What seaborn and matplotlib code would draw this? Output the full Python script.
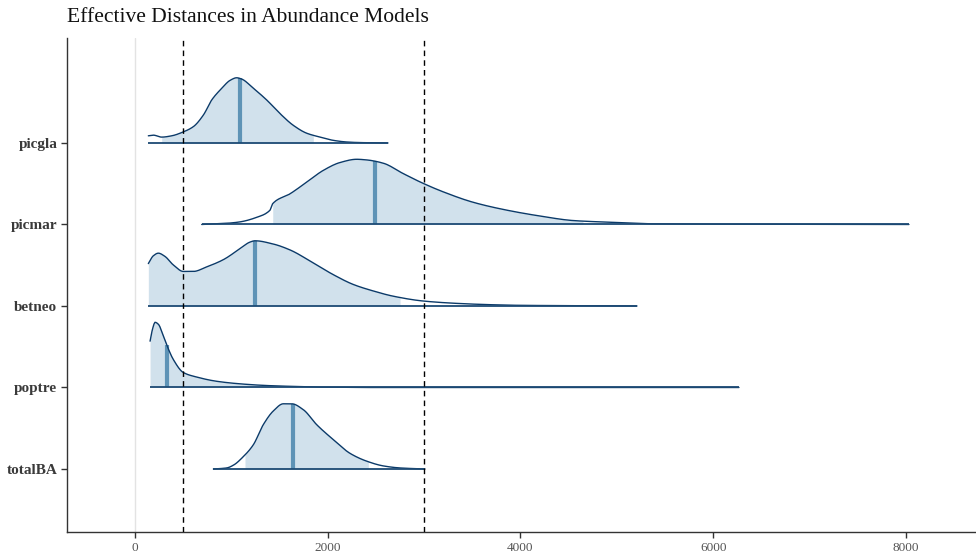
import numpy as np
import matplotlib
matplotlib.use("Agg")
import matplotlib.pyplot as plt
import seaborn as sns

# Parameters, bottom to top
params = ["totalBA", "poptre", "betneo", "picmar", "picgla"]

# Density curves (distance, relative height with peak = 1)
picgla_x = [138, 190, 277, 381, 501, 605, 710, 796, 901, 986, 1055, 1107, 1227,
            1366, 1505, 1643, 1781, 1920, 2058, 2197, 2335, 2625]
picgla_h = [0.11, 0.12, 0.09, 0.11, 0.17, 0.25, 0.43, 0.66, 0.84, 0.96, 1.0, 0.98,
            0.84, 0.66, 0.45, 0.27, 0.15, 0.09, 0.04, 0.015, 0.006, 0.0]

picmar_x = [692, 968, 1090, 1263, 1401, 1429, 1608, 1782, 1954, 2127, 2300, 2404,
            2576, 2784, 2991, 3199, 3510, 3857, 4202, 4548, 4894, 5067, 5344, 8031]
picmar_h = [0.0, 0.02, 0.04, 0.11, 0.22, 0.32, 0.47, 0.65, 0.83, 0.95, 1.0, 0.99,
            0.94, 0.78, 0.63, 0.50, 0.34, 0.22, 0.13, 0.06, 0.036, 0.026, 0.01, 0.0]

betneo_x = [138, 190, 242, 311, 397, 501, 605, 744, 916, 1090, 1193, 1245, 1435,
            1608, 1850, 2058, 2265, 2473, 2680, 2991, 3338, 3684, 3995, 5209]
betneo_h = [0.65, 0.77, 0.81, 0.76, 0.63, 0.53, 0.53, 0.60, 0.71, 0.88, 0.98, 1.0,
            0.95, 0.86, 0.66, 0.48, 0.33, 0.23, 0.15, 0.076, 0.04, 0.02, 0.01, 0.0]

poptre_x = [156, 184, 208, 242, 294, 346, 397, 501, 640, 848, 1090, 1367, 1678,
            1954, 2231, 2400, 6267]
poptre_h = [0.71, 0.91, 1.0, 0.97, 0.79, 0.59, 0.43, 0.23, 0.16, 0.095, 0.056,
            0.03, 0.015, 0.005, 0.003, 0.0, 0.0]

totalBA_x = [813, 951, 1020, 1124, 1227, 1331, 1435, 1539, 1626, 1746, 1885, 2058,
             2231, 2404, 2577, 2750, 3009]
totalBA_h = [0.0, 0.016, 0.058, 0.19, 0.37, 0.68, 0.89, 1.0, 1.0, 0.91, 0.68, 0.45,
             0.24, 0.12, 0.047, 0.016, 0.0]

# Posterior medians and intervals (same order as params)
medians = [1643, 329, 1245, 2490, 1085]
inner_lo = [1141, 156, 138, 1429, 277]
inner_hi = [2421, 1678, 2750, 4648, 1850]
outer_lo = [813, 156, 135, 692, 138]
outer_hi = [3009, 6267, 5209, 8031, 2625]

# Reference distances
ref_lines = [500, 3000]
x_ticks = [0, 2000, 4000, 6000, 8000]

curves = {
    "picgla": (picgla_x, picgla_h),
    "picmar": (picmar_x, picmar_h),
    "betneo": (betneo_x, betneo_h),
    "poptre": (poptre_x, poptre_h),
    "totalBA": (totalBA_x, totalBA_h),
}


def pchip(x, y, xn):
    """Monotone cubic Hermite curve through (x, y), evaluated at xn."""
    x = np.asarray(x, float)
    y = np.asarray(y, float)
    h = np.diff(x)
    delta = np.diff(y) / h
    n = len(x)
    d = np.zeros(n)
    for k in range(1, n - 1):
        if delta[k - 1] * delta[k] > 0:
            w1 = 2 * h[k] + h[k - 1]
            w2 = h[k] + 2 * h[k - 1]
            d[k] = (w1 + w2) / (w1 / delta[k - 1] + w2 / delta[k])
    d[0] = delta[0]
    d[-1] = delta[-1]
    idx = np.clip(np.searchsorted(x, xn) - 1, 0, n - 2)
    t = (xn - x[idx]) / h[idx]
    h00 = 2 * t**3 - 3 * t**2 + 1
    h10 = t**3 - 2 * t**2 + t
    h01 = -2 * t**3 + 3 * t**2
    h11 = t**3 - t**2
    return (h00 * y[idx] + h10 * h[idx] * d[idx]
            + h01 * y[idx + 1] + h11 * h[idx] * d[idx + 1])


sns.set_theme(style="white")
plt.rcParams["font.family"] = ["Liberation Serif", "DejaVu Serif"]

LIGHT = "#d1e1ec"
MID = "#5e93b6"
DARK = "#0b3a69"
SCALE = 0.80

fig = plt.figure(figsize=(9.76, 5.56), dpi=100)
ax = fig.add_axes([67 / 976, 24 / 556, 1 - 67 / 976, (532 - 38) / 556])

ax.axvline(0, color="#e3e3e3", lw=1.0, zorder=0)

for i, name in enumerate(params):
    y0 = i + 1
    xs = np.asarray(curves[name][0], dtype=float)
    hs = np.asarray(curves[name][1], dtype=float) * SCALE
    gx = np.linspace(xs[0], xs[-1], 600)
    gh = np.clip(pchip(xs, hs, gx), 0, None)

    lo, hi = inner_lo[i], inner_hi[i]
    m = (gx >= lo) & (gx <= hi)
    fx = np.concatenate([[lo], gx[m], [hi]])
    fh = np.interp(fx, gx, gh)
    ax.fill_between(fx, y0, y0 + fh, color=LIGHT, lw=0, zorder=1)

    mh = np.interp(medians[i], gx, gh)
    ax.vlines(medians[i], y0, y0 + mh, color=MID, lw=3, zorder=2)

    sns.lineplot(x=gx, y=y0 + gh, ax=ax, color=DARK, lw=1.0, zorder=3,
                 estimator=None, sort=False)
    ax.hlines(y0, outer_lo[i], outer_hi[i], color="#1d4a74", lw=1.3, zorder=4)

for v in ref_lines:
    ax.axvline(v, color="black", lw=1.0, ls=(0, (4, 3)), zorder=5)

ax.set_xlim(-706, 8727)
ax.set_ylim(0.227, 6.288)
ax.set_yticks(range(1, len(params) + 1))
ax.set_yticklabels(params, fontsize=11, fontweight="bold", color="#3a3a3a")
ax.set_xticks(x_ticks)
ax.set_xticklabels([str(t) for t in x_ticks], fontsize=9.5, color="#555555")
ax.tick_params(axis="both", length=4, width=1, color="#333333", direction="out",
               left=True, bottom=True, pad=3)
ax.set_xlabel("")
ax.set_ylabel("")
for s in ["top", "right"]:
    ax.spines[s].set_visible(False)
for s in ["left", "bottom"]:
    ax.spines[s].set_color("#333333")
    ax.spines[s].set_linewidth(1.0)
ax.grid(False)

fig.text(67 / 976, 1 - 18 / 556, "Effective Distances in Abundance Models",
         ha="left", va="center", fontsize=15.5, color="#111111")

fig.savefig("out.png", dpi=100)
